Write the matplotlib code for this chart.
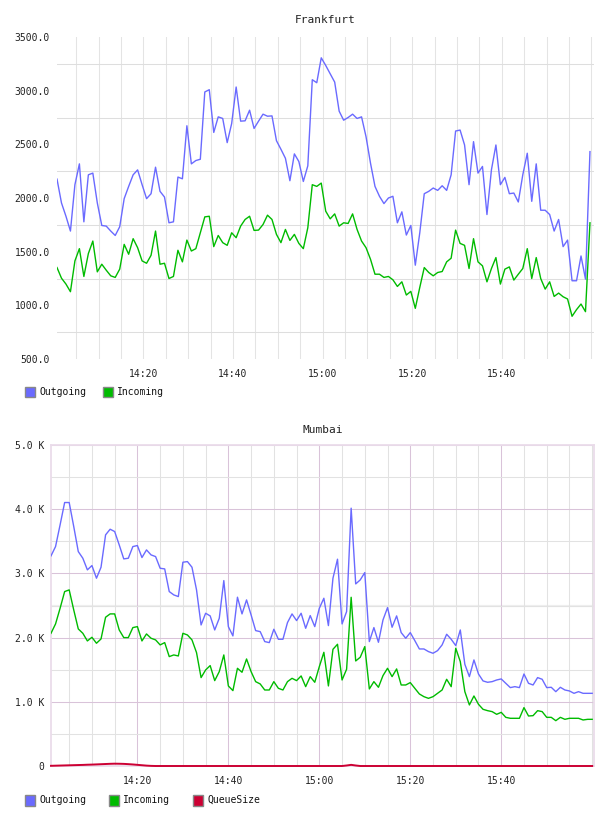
import matplotlib
matplotlib.use("Agg")
import matplotlib.pyplot as plt
import numpy as np
from matplotlib.patches import Rectangle

# ---------------- data ----------------
fra_title = "Frankfurt"
mum_title = "Mumbai"
fra_start = "14:00:42"
mum_start = "14:01:00"

fra_out = [2176, 1954, 1830, 1692, 2124, 2318, 1778, 2216, 2232, 1954,
           1744, 1738, 1692, 1651, 1732, 1994, 2108, 2216, 2262, 2124,
           1994, 2040, 2287, 2062, 2009, 1769, 1778, 2195, 2179, 2673,
           2318, 2349, 2361, 2988, 3009, 2611, 2756, 2741, 2516, 2694,
           3034, 2716, 2719, 2818, 2648, 2716, 2781, 2762, 2765, 2534,
           2454, 2370, 2161, 2411, 2340, 2154, 2300, 3102, 3074, 3306,
           3235, 3157, 3080, 2809, 2725, 2750, 2781, 2741, 2756, 2571,
           2324, 2108, 2016, 1948, 2000, 2016, 1769, 1871, 1655, 1744,
           1374, 1676, 2040, 2062, 2093, 2071, 2114, 2071, 2216, 2624,
           2633, 2494, 2124, 2525, 2232, 2294, 1846, 2263, 2494, 2124,
           2192, 2040, 2046, 1963, 2216, 2417, 1969, 2318, 1886, 1886,
           1846, 1692, 1800, 1547, 1608, 1229, 1229, 1460, 1244, 2432]

fra_in = [1352, 1253, 1198, 1127, 1414, 1528, 1269, 1482, 1599, 1312,
          1383, 1327, 1275, 1260, 1337, 1568, 1476, 1621, 1537, 1414,
          1392, 1466, 1692, 1383, 1392, 1250, 1269, 1513, 1405, 1608,
          1506, 1528, 1676, 1824, 1830, 1547, 1651, 1584, 1559, 1676,
          1630, 1738, 1800, 1830, 1698, 1701, 1753, 1840, 1800, 1661,
          1584, 1707, 1605, 1661, 1577, 1528, 1723, 2124, 2108, 2139,
          1877, 1806, 1852, 1738, 1769, 1763, 1852, 1707, 1599, 1537,
          1429, 1290, 1290, 1260, 1269, 1238, 1176, 1219, 1096, 1130,
          972, 1167, 1352, 1306, 1275, 1306, 1315, 1405, 1439, 1701,
          1577, 1559, 1343, 1621, 1405, 1368, 1219, 1343, 1445, 1198,
          1337, 1358, 1235, 1290, 1343, 1528, 1250, 1445, 1250, 1151,
          1219, 1083, 1114, 1080, 1059, 898, 960, 1012, 941, 1769]

mum_out = [3273, 3418, 3756, 4104, 4104, 3730, 3340, 3236, 3055, 3122,
           2925, 3096, 3600, 3688, 3652, 3444, 3226, 3236, 3418, 3434,
           3247, 3366, 3288, 3262, 3080, 3070, 2717, 2665, 2639, 3174,
           3184, 3096, 2743, 2197, 2379, 2338, 2119, 2301, 2888, 2171,
           2026, 2629, 2369, 2587, 2353, 2109, 2093, 1938, 1922, 2130,
           1974, 1974, 2234, 2369, 2265, 2379, 2145, 2343, 2171, 2457,
           2613, 2187, 2925, 3221, 2213, 2405, 4016, 2836, 2899, 3013,
           1938, 2156, 1927, 2275, 2467, 2161, 2338, 2078, 1990, 2078,
           1953, 1823, 1823, 1782, 1756, 1797, 1886, 2052, 1974, 1875,
           2119, 1584, 1392, 1652, 1433, 1325, 1304, 1314, 1340, 1356,
           1288, 1221, 1236, 1221, 1433, 1288, 1262, 1377, 1351, 1221,
           1226, 1158, 1226, 1184, 1169, 1132, 1158, 1132, 1132, 1132]

mum_in = [2067, 2213, 2457, 2717, 2743, 2431, 2135, 2067, 1948, 2005,
          1912, 1979, 2317, 2369, 2369, 2119, 2000, 2000, 2156, 2171,
          1948, 2057, 1990, 1964, 1886, 1922, 1704, 1730, 1714, 2067,
          2041, 1964, 1766, 1377, 1496, 1564, 1330, 1470, 1730, 1247,
          1174, 1522, 1460, 1667, 1470, 1314, 1278, 1184, 1184, 1314,
          1210, 1184, 1314, 1366, 1330, 1403, 1236, 1392, 1304, 1548,
          1771, 1247, 1818, 1896, 1340, 1507, 2628, 1636, 1694, 1860,
          1200, 1314, 1226, 1408, 1522, 1392, 1512, 1262, 1262, 1299,
          1210, 1122, 1080, 1054, 1080, 1132, 1184, 1351, 1236, 1834,
          1626, 1158, 951, 1091, 961, 883, 862, 847, 805, 836,
          758, 743, 743, 743, 909, 779, 784, 862, 847, 758,
          758, 706, 758, 727, 743, 743, 743, 717, 727, 727]

mum_queue = [3, 5, 7, 9, 11, 13, 15, 17, 20, 22,
             25, 28, 31, 34, 36, 35, 33, 29, 24, 18,
             12, 6, 2, 0, 0, 0, 0, 0, 0, 0,
             0, 0, 0, 0, 0, 0, 0, 0, 0, 0,
             0, 0, 0, 0, 0, 0, 0, 0, 0, 0,
             0, 0, 0, 0, 0, 0, 0, 0, 0, 0,
             0, 0, 0, 0, 0, 8, 18, 8, 0, 0,
             0, 0, 0, 0, 0, 0, 0, 0, 0, 0,
             0, 0, 0, 0, 0, 0, 0, 0, 0, 0,
             0, 0, 0, 0, 0, 0, 0, 0, 0, 0,
             0, 0, 0, 0, 0, 0, 0, 0, 0, 0,
             0, 0, 0, 0, 0, 0, 0, 0, 0, 0]

x_tick_labels = ["14:20", "14:40", "15:00", "15:20", "15:40"]
fra_ytick_values = [500, 1000, 1500, 2000, 2500, 3000, 3500]
mum_ytick_values = [0, 1000, 2000, 3000, 4000, 5000]
mum_ytick_labels = ["0", "1.0 K", "2.0 K", "3.0 K", "4.0 K", "5.0 K"]
fra_legend = ["Outgoing", "Incoming"]
mum_legend = ["Outgoing", "Incoming", "QueueSize"]

# ---------------- helpers ----------------
def to_min(s):
    p = [float(v) for v in s.split(":")]
    m = p[0] * 60 + p[1]
    if len(p) > 2:
        m += p[2] / 60.0
    return m

C_OUT = "#6a6aff"
C_IN = "#00bb00"
C_Q = "#cc0033"
FONT = "DejaVu Sans Mono"
plt.rcParams["font.family"] = FONT
GLW = 0.75

fig = plt.figure(figsize=(6.08, 8.16), dpi=100)
W, H = 608.0, 816.0

def axes_px(l, t, r, b):
    return fig.add_axes([l / W, 1 - b / H, (r - l) / W, (b - t) / H])

xt = [to_min(s) for s in x_tick_labels]

# ---------------- Frankfurt ----------------
ax1 = axes_px(57, 37, 594, 359)
t1 = to_min(fra_start) + np.arange(len(fra_out))
ax1.plot(t1, fra_out, color=C_OUT, lw=1.0, zorder=3)
ax1.plot(t1, fra_in, color=C_IN, lw=1.0, zorder=3)
ax1.set_xlim(t1[0], t1[0] + 119.9)
ax1.set_ylim(500, 3500)
ax1.set_yticks(fra_ytick_values)
ax1.set_yticklabels([f"{v:.1f}" for v in fra_ytick_values])
ax1.set_yticks(np.arange(750, 3500, 500), minor=True)
ax1.set_xticks(xt)
ax1.set_xticklabels(x_tick_labels)
ax1.set_xticks(np.arange(845, 961, 5), minor=True)
ax1.grid(which="minor", axis="y", color="#dedede", lw=GLW)
ax1.grid(which="both", axis="x", color="#e4e4e4", lw=GLW)
ax1.set_axisbelow(True)
for s in ax1.spines.values():
    s.set_visible(False)
ax1.tick_params(which="both", length=0, labelsize=7, colors="#222222")
ax1.tick_params(axis="y", pad=5)
ax1.tick_params(axis="x", pad=7)
fig.text(325.5 / W, 1 - 20 / H, fra_title, ha="center", va="center",
         fontsize=8, color="#222222")

# ---------------- Mumbai ----------------
PINK = "#d9c3d9"
GREY = "#e2e2e2"
ax2 = axes_px(51, 445, 594, 766)
t2 = to_min(mum_start) + np.arange(len(mum_out))
ax2.plot(t2, mum_out, color=C_OUT, lw=1.0, zorder=3)
ax2.plot(t2, mum_in, color=C_IN, lw=1.0, zorder=3)
ax2.plot(t2, mum_queue, color=C_Q, lw=1.4, zorder=4, clip_on=False)
ax2.set_xlim(t2[0], t2[0] + 119.4)
ax2.set_ylim(0, 5000)
ax2.set_yticks(mum_ytick_values)
ax2.set_yticklabels(mum_ytick_labels)
ax2.set_yticks(np.arange(500, 5000, 1000), minor=True)
ax2.set_xticks(xt)
ax2.set_xticklabels(x_tick_labels)
ax2.set_xticks([m for m in range(845, 961, 5) if m not in xt], minor=True)
ax2.grid(which="major", color=PINK, lw=GLW)
ax2.grid(which="minor", color=GREY, lw=GLW)
ax2.axhline(2500, color="#efefef", lw=1.6, zorder=0.5)
ax2.set_axisbelow(True)
for s in ax2.spines.values():
    s.set_color("#eadcea")
    s.set_linewidth(1.3)
ax2.tick_params(which="both", length=0, labelsize=7, colors="#222222")
ax2.tick_params(axis="y", pad=5)
ax2.tick_params(axis="x", pad=7)
fig.text(322.5 / W, 1 - 430 / H, mum_title, ha="center", va="center",
         fontsize=8, color="#222222")

# ---------------- legends ----------------
def legend_row(y, items, xs):
    for (lab, col), x in zip(items, xs):
        fig.patches.append(Rectangle((x / W, 1 - (y + 5.5) / H), 10 / W, 11 / H,
                                     transform=fig.transFigure, facecolor=col,
                                     edgecolor="#888888", lw=1.0))
        fig.text((x + 14) / W, 1 - y / H, lab, ha="left", va="center",
                 fontsize=7, color="#111111")

legend_row(392, list(zip(fra_legend, [C_OUT, C_IN])), [25, 103])
legend_row(800, list(zip(mum_legend, [C_OUT, C_IN, C_Q])), [25, 109, 193])

fig.savefig("out.png", dpi=100)
